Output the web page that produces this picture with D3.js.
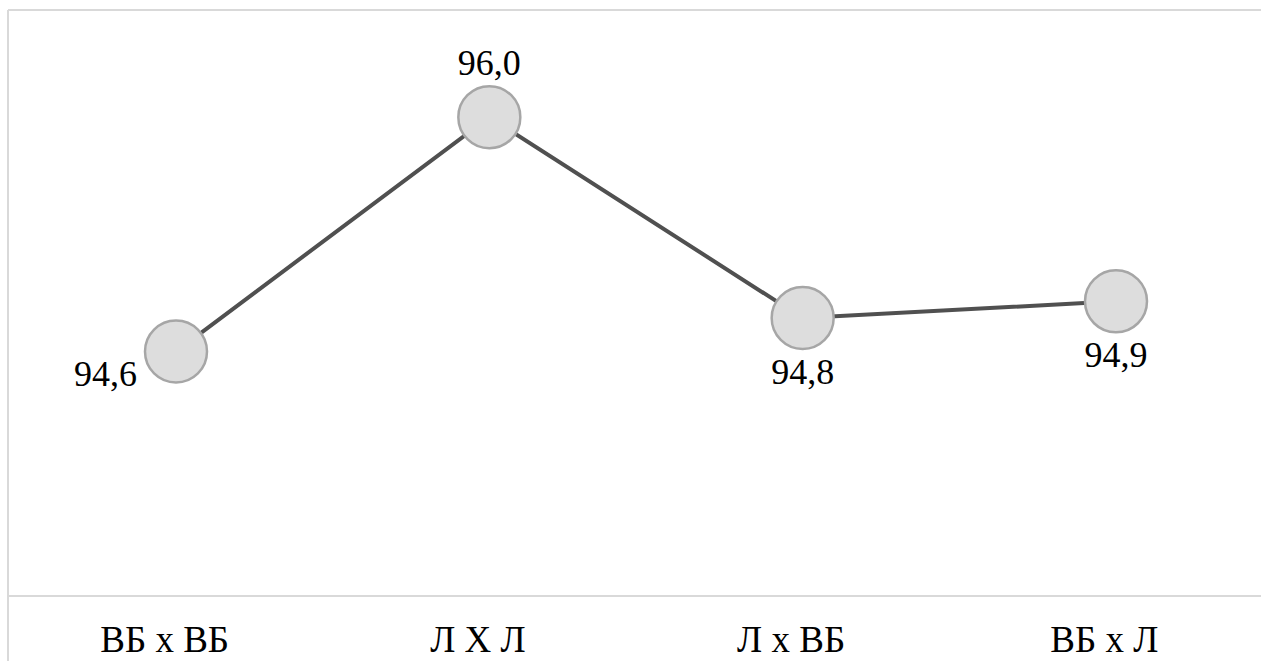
<!DOCTYPE html>
<html>
<head>
<meta charset="utf-8">
<script src="https://cdn.jsdelivr.net/npm/d3@7"></script>
<style>
  html, body { margin: 0; padding: 0; background: #ffffff; }
  svg { display: block; }
</style>
</head>
<body>
<svg id="chart" width="1261" height="661"></svg>
<script>
// Crosses and their values
const categories = ["ВБ х ВБ", "Л Х Л", "Л х ВБ", "ВБ х Л"];
const values = [94.6, 96.0, 94.8, 94.9];
// Where each value label sits relative to its marker
const labelPlacement = ["left", "above", "below", "below"];

const W = 1261, H = 661;
const plot = { left: 8, top: 10, right: W, bottom: 596 };
const SERIF = '"Liberation Serif", "Times New Roman", serif';

const svg = d3.select("#chart");

// Category bands for the axis labels; marker positions inset within the plot
const xBand = d3.scaleBand().domain(categories).range([plot.left, plot.right]);
const xMark = d3.scalePoint().domain(categories).range([176, 1116]);
const y = d3.scaleLinear().domain([93.14, 96.64]).range([plot.bottom, plot.top]);

// Frame: top and left borders
const frame = svg.append("g").attr("stroke", "#d9d9d9").attr("stroke-width", 2);
frame.append("line").attr("x1", plot.left).attr("x2", W).attr("y1", plot.top).attr("y2", plot.top);
frame.append("line").attr("x1", plot.left).attr("x2", plot.left).attr("y1", plot.top).attr("y2", H);

// Category axis
const xAxis = svg.append("g")
  .attr("transform", `translate(0,${plot.bottom})`)
  .call(d3.axisBottom(xBand).tickSize(0).tickPadding(0));
xAxis.attr("font-family", null).attr("font-size", null);
xAxis.select(".domain").attr("stroke", "#d9d9d9").attr("stroke-width", 2)
  .attr("d", `M${plot.left},0H${W}`);
xAxis.selectAll(".tick text")
  .attr("y", 56)
  .attr("dy", null)
  .style("font-family", SERIF)
  .style("font-size", "37px")
  .attr("fill", "#000");

const pts = categories.map((c, i) => ({ c, v: values[i], place: labelPlacement[i] }));

// Connecting line
svg.append("path")
  .datum(pts)
  .attr("fill", "none")
  .attr("stroke", "#505050")
  .attr("stroke-width", 4)
  .attr("d", d3.line().x(d => xMark(d.c)).y(d => y(d.v)));

// Markers
svg.append("g").selectAll("circle")
  .data(pts)
  .join("circle")
  .attr("cx", d => xMark(d.c))
  .attr("cy", d => y(d.v))
  .attr("r", 31)
  .attr("fill", "#dddddd")
  .attr("stroke", "#a6a6a6")
  .attr("stroke-width", 2.5);

// Value labels
const fmt = v => d3.format(".1f")(v).replace(".", ",");
svg.append("g").selectAll("text")
  .data(pts)
  .join("text")
  .style("font-family", SERIF)
  .style("font-size", "36px")
  .attr("fill", "#000")
  .attr("text-anchor", d => d.place === "left" ? "end" : "middle")
  .attr("x", d => xMark(d.c) + (d.place === "left" ? -39 : 0))
  .attr("y", d => y(d.v) + (d.place === "left" ? 34 : d.place === "above" ? -42 : 66))
  .text(d => fmt(d.v));
</script>
</body>
</html>
